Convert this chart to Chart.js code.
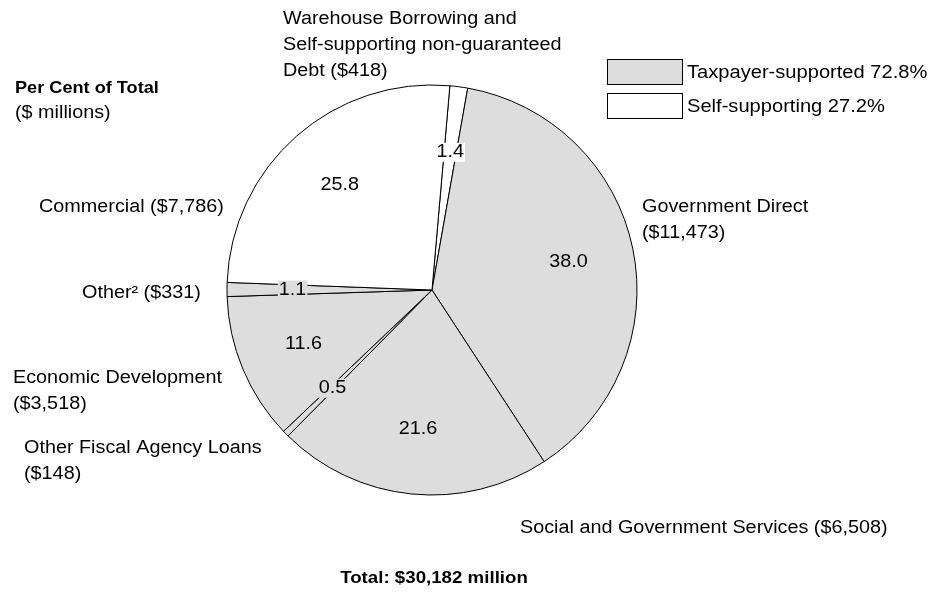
<!DOCTYPE html>
<html>
<head>
<meta charset="utf-8">
<script src="https://cdn.jsdelivr.net/npm/chart.js@4/dist/chart.umd.min.js"></script>
<style>
  html, body { margin: 0; padding: 0; background: #fff; }
  #wrap { width: 947px; height: 592px; }
</style>
</head>
<body>
<div id="wrap"><canvas id="debtChart" width="947" height="592"></canvas></div>
<script>
// slices run clockwise from just right of 12 o'clock
const categories = [
  ['Warehouse Borrowing and', 'Self-supporting non-guaranteed', 'Debt'],
  ['Government Direct'],
  ['Social and Government Services'],
  ['Other Fiscal Agency Loans'],
  ['Economic Development'],
  ['Other\u00B2'],
  ['Commercial']
];
const amounts = [418, 11473, 6508, 148, 3518, 331, 7786];      // $ millions
const percents = [1.4, 38.0, 21.6, 0.5, 11.6, 1.1, 25.8];
const supportType = ['self', 'tax', 'tax', 'tax', 'tax', 'tax', 'self'];
const groupNames = ['Taxpayer-supported', 'Self-supporting'];
const groupKeys = ['tax', 'self'];
const totalAmount = 30182;

const GREY = '#dddddd';
const WHITE = '#ffffff';
const colorFor = t => (t === 'tax' ? GREY : WHITE);

const FONT = '"Liberation Sans", Arial, Helvetica, sans-serif';
const HSCALE = 1.1;

// where each category caption sits: left x, first line middle y, amount on its own line?
const captionPlaces = [
  { x: 283, y: 19, own: false },
  { x: 642, y: 207, own: true },
  { x: 520, y: 528, own: false },
  { x: 24, y: 448, own: true },
  { x: 13, y: 378, own: true },
  { x: 82, y: 293, own: false },
  { x: 39, y: 207, own: false }
];

const fmt = n => '$' + n.toLocaleString('en-US');

function drawText(ctx, text, x, y, align) {
  ctx.save();
  ctx.translate(x, y);
  ctx.scale(HSCALE, 1);
  ctx.textAlign = align || 'left';
  ctx.textBaseline = 'middle';
  ctx.fillText(text, 0, 0);
  ctx.restore();
}

function textWidth(ctx, text) {
  return ctx.measureText(text).width * HSCALE;
}

const annotations = {
  id: 'annotations',
  afterDatasetsDraw(chart) {
    const ctx = chart.ctx;
    const meta = chart.getDatasetMeta(0);
    ctx.save();
    ctx.fillStyle = '#000';

    // percentage labels inside each slice, on a box of the slice colour
    ctx.font = '18px ' + FONT;
    meta.data.forEach((arc, i) => {
      const mid = (arc.startAngle + arc.endAngle) / 2;
      const r = arc.outerRadius * 0.68;
      const x = arc.x + Math.cos(mid) * r;
      const y = arc.y + Math.sin(mid) * r;
      const label = percents[i].toFixed(1);
      const w = textWidth(ctx, label);
      ctx.fillStyle = colorFor(supportType[i]);
      ctx.fillRect(x - w / 2 - 1, y - 9, w + 2, 19);
      ctx.fillStyle = '#000';
      drawText(ctx, label, x, y, 'center');
    });

    // category captions round the pie
    categories.forEach((lines, i) => {
      const p = captionPlaces[i];
      const amt = '(' + fmt(amounts[i]) + ')';
      const out = lines.slice();
      if (p.own) out.push(amt);
      else out[out.length - 1] = out[out.length - 1] + ' ' + amt;
      out.forEach((t, k) => drawText(ctx, t, p.x, p.y + k * 26, 'left'));
    });

    // heading on the left
    ctx.font = 'bold 16.5px ' + FONT;
    drawText(ctx, 'Per Cent of Total', 15, 88, 'left');
    ctx.font = '18px ' + FONT;
    drawText(ctx, '($ millions)', 15, 113, 'left');

    // total under the pie
    ctx.font = 'bold 17px ' + FONT;
    drawText(ctx, 'Total: ' + fmt(totalAmount) + ' million', meta.data[0].x + 2, 578, 'center');

    // legend
    ctx.font = '18.3px ' + FONT;
    ctx.lineWidth = 1;
    ctx.strokeStyle = '#000';
    groupKeys.forEach((key, k) => {
      const share = percents.reduce((s, v, i) => s + (supportType[i] === key ? v : 0), 0);
      const by = 59.5 + k * 34;
      ctx.fillStyle = colorFor(key);
      ctx.fillRect(607.5, by, 75, 25);
      ctx.strokeRect(607.5, by, 75, 25);
      ctx.fillStyle = '#000';
      drawText(ctx, groupNames[k] + ' ' + share.toFixed(1) + '%', 687, by + 13, 'left');
    });
    ctx.restore();
  }
};

new Chart(document.getElementById('debtChart'), {
  type: 'pie',
  data: {
    labels: categories.map(c => c.join(' ')),
    datasets: [{
      data: percents,
      backgroundColor: supportType.map(colorFor),
      borderColor: '#000',
      borderWidth: 1,
      hoverOffset: 0
    }]
  },
  options: {
    responsive: false,
    animation: false,
    rotation: 5,
    radius: 205,
    layout: { padding: { left: 0, right: 83, top: 0, bottom: 12 } },
    events: [],
    plugins: {
      legend: { display: false },
      tooltip: { enabled: false }
    }
  },
  plugins: [annotations]
});
</script>
</body>
</html>
